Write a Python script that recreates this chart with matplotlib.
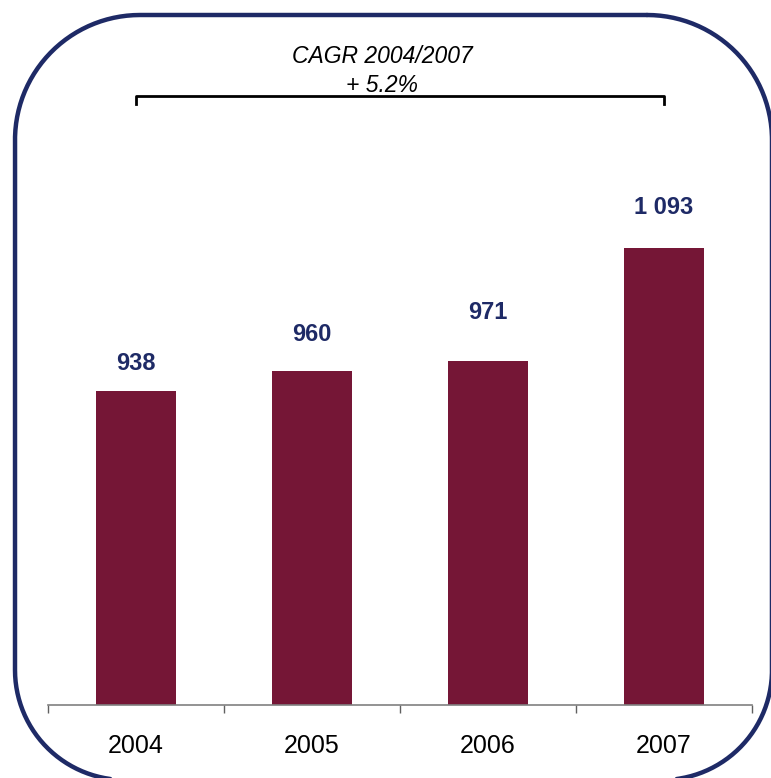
import numpy as np
import matplotlib.pyplot as plt

plt.rcParams['font.family'] = ['Liberation Sans', 'DejaVu Sans']

# data
years = ['2004', '2005', '2006', '2007']
values = [938, 960, 971, 1093]
labels = ['938', '960', '971', '1 093']
cagr_title = 'CAGR 2004/2007'
cagr_value = '+ 5.2%'

# label gaps above the bars (points), as placed in the original
label_gap = [20, 26, 35, 29.5]

bar_color = '#751636'
navy = '#1E2A66'

fig = plt.figure(figsize=(7.71, 7.78), dpi=100)

# rounded frame drawn in pixel coordinates
bg = fig.add_axes([0, 0, 1, 1])
bg.set_xlim(0, 771)
bg.set_ylim(778, 0)
bg.axis('off')


def rounded_frame(l, t, r, b, rad_top, rad_bot):
    pts = []
    corners = [((r - rad_top, t + rad_top), rad_top, -90, 0),
               ((r - rad_bot, b - rad_bot), rad_bot, 0, 90),
               ((l + rad_bot, b - rad_bot), rad_bot, 90, 180),
               ((l + rad_top, t + rad_top), rad_top, 180, 270)]
    for (cx, cy), rad, a0, a1 in corners:
        a = np.radians(np.linspace(a0, a1, 60))
        pts.append(np.column_stack([cx + rad*np.cos(a), cy + rad*np.sin(a)]))
    pts = np.vstack(pts + [pts[0][:1]])
    return pts[:, 0], pts[:, 1]


fx, fy = rounded_frame(15, 15, 772, 780, 125, 110)
bg.plot(fx, fy, color=navy, lw=3.2, solid_capstyle='round')

# main bar chart
ax = fig.add_axes([48/771, (778-705)/778, 704/771, 691/778])
x = np.arange(len(years))
ax.bar(x, values, width=0.455, color=bar_color)
ax.set_xlim(-0.5, 3.5)
ax.set_ylim(598, 1347)

for xi, v, lab, g in zip(x, values, labels, label_gap):
    ax.annotate(lab, (xi, v), xytext=(0, g), textcoords='offset points',
                ha='center', va='center', fontsize=17,
                fontweight='bold', color=navy)

# CAGR bracket
by = 1258
ax.plot([0, 0, 3, 3], [by - 9, by, by, by - 9], color='black', lw=2,
        clip_on=False)
ax.text(1.4, 1301, cagr_title, ha='center', va='center', fontsize=16.5,
        style='italic')
ax.text(1.4, 1269, cagr_value, ha='center', va='center', fontsize=16.5,
        style='italic')

for s in ['top', 'right', 'left']:
    ax.spines[s].set_visible(False)
ax.spines['bottom'].set_color('#808080')
ax.spines['bottom'].set_linewidth(1.2)
ax.set_yticks([])
ax.set_xticks(x)
ax.set_xticklabels(years, fontsize=18)
ax.tick_params(axis='x', which='major', length=0, pad=21)
ax.set_xticks(np.arange(-0.5, 4, 1), minor=True)
ax.tick_params(axis='x', which='minor', length=6, width=1.0,
               color='#606060', direction='out')
ax.patch.set_alpha(0)

fig.savefig('out.png', dpi=100)
